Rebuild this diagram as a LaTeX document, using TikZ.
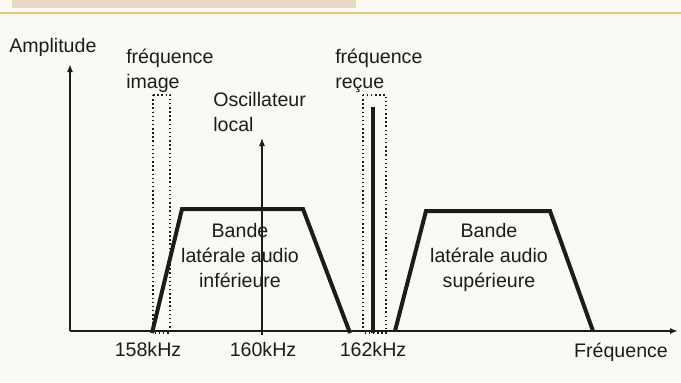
\documentclass[tikz,border=0pt]{standalone}
\usepackage{fontspec}
\setmainfont{Liberation Sans}
\usetikzlibrary{arrows.meta}
\definecolor{paper}{HTML}{FAF9F4}
\definecolor{strip}{HTML}{E7DBC6}
\definecolor{rulecol}{HTML}{F0C46C}
\definecolor{ink}{HTML}{1C1C1C}
\tikzset{
  lbl/.style={inner sep=0pt, text=ink, font=\fontsize{14.7}{18.75}\selectfont},
  axisline/.style={ink, line width=1.4pt, -{Latex[length=6pt,width=4.5pt]}},
  band/.style={ink, line width=3pt, line join=miter},
  window/.style={ink, line width=1.1pt, dotted},
}
\begin{document}
\begin{tikzpicture}[x=0.75pt,y=-0.75pt]
  \fill[paper] (0,0) rectangle (681,382);
  \useasboundingbox (0,0) rectangle (681,382);
  \fill[strip] (12,0) rectangle (356,8);
  \draw[rulecol, line width=1.5pt] (0,12.5) -- (681,12.5);

  % axes
  \coordinate (O) at (70,331);
  \coordinate (ytop) at (70,64);
  \coordinate (xend) at (678,331);
  \draw[axisline] (O) -- (ytop);
  \draw[axisline] (O) -- (xend);
  \node[lbl, anchor=base west] (amp) at (9,52) {Amplitude};
  \node[lbl, anchor=base] (freq) at (621,357) {Fréquence};
  \foreach \f/\x in {158/148,160/263,162/373}
    \node[lbl, anchor=base] (f\f) at (\x,356) {\f kHz};

  % image and received windows
  \draw[window] (153,95) rectangle (170,333);
  \draw[window] (363,95) rectangle (386,333);
  \node[lbl, anchor=north west, align=left] (fimage) at (126,49) {fréquence\\image};
  \node[lbl, anchor=north west, align=left] (frecue) at (335,49) {fréquence\\reçue};
  \coordinate (rx) at (373,333);
  \coordinate (rxtop) at (373,107);
  \draw[ink, line width=3pt] (rx) -- (rxtop);

  % local oscillator
  \coordinate (lo) at (262,335);
  \coordinate (lotop) at (262,138);
  \draw[ink, line width=0.8pt, -{Latex[length=6pt,width=4.5pt]}] (lo) -- (lotop);
  \node[lbl, anchor=north west, align=left] (osc) at (213,92) {Oscillateur\\local};

  % side bands
  \draw[band] (152,333) -- (182,209) -- (303,209) -- (350,333);
  \draw[band] (395,331) -- (426,211) -- (550,211) -- (593,331);
  \node[lbl, anchor=north, align=center] (lsb) at (240,223) {Bande\\latérale audio\\inférieure};
  \node[lbl, anchor=north, align=center] (usb) at (489,223) {Bande\\latérale audio\\supérieure};
\end{tikzpicture}
\end{document}
